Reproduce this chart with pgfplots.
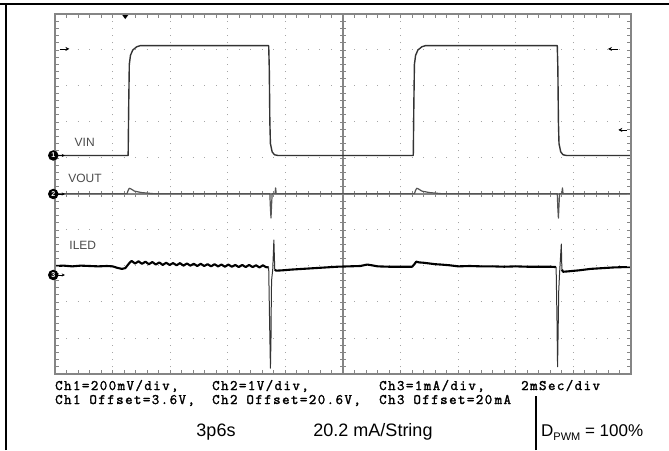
\documentclass[border=0pt]{standalone}
\usepackage{fontspec}
\setmainfont{Liberation Sans}
\newfontfamily\scopefont{Latin Modern Mono}[FakeBold=1.8, LetterSpace=10]
\usepackage{pgfplots}
\pgfplotsset{compat=1.18}
\usetikzlibrary{arrows.meta}

\definecolor{framegray}{HTML}{858585}
\definecolor{dotgray}{HTML}{A5A5A5}
\definecolor{vincol}{HTML}{333333}
\definecolor{voutcol}{HTML}{555555}
\definecolor{labcol}{HTML}{4A4A4A}

\begin{document}
\begin{tikzpicture}[x=1pt,y=1pt]
\useasboundingbox (0,0) rectangle (669,450);
% page frame
\draw[line width=1.4pt] (0,446) -- (669,446);
\draw[line width=1.4pt] (6,0) -- (6,446);
\draw[line width=1.2pt] (536,0) -- (536,54);

% grid behind the traces
\begin{scope}[shift={(55,76)}, x=57.6pt, y=36pt]
  \foreach \i in {1,2,3,4,6,7,8,9}
    \draw[dotgray, line width=1pt, dash pattern=on 1pt off 6.2pt, dash phase=0.5pt] (\i,0) -- (\i,10);
  \foreach \j in {1,2,3,4,6,7,8,9}
    \draw[dotgray, line width=1pt, dash pattern=on 1pt off 10.52pt, dash phase=0.5pt] (0,\j) -- (10,\j);
  % centre cross
  \draw[framegray, line width=1.1pt] (5,0) -- (5,10);
  \draw[framegray, line width=1.1pt] (0,5) -- (10,5);
  \foreach \k in {1,...,49} {
    \draw[framegray, line width=0.9pt] (5,\k/5) ++(-3pt,0) -- ++(6pt,0);
    \draw[framegray, line width=0.9pt] (\k/5,5) ++(0,-3pt) -- ++(0,6pt);
  }
\end{scope}

\begin{axis}[
  at={(55pt,76pt)}, anchor=south west,
  scale only axis, width=576pt, height=360pt,
  xmin=0, xmax=10, ymin=0, ymax=10,
  hide axis,
]
% VIN
\addplot[vincol, line width=1.4pt, line join=round, mark=none] coordinates {
 (0,6.07) (1.27,6.07) (1.28,7.5) (1.29,8.6) (1.31,8.85) (1.35,9.0) (1.42,9.09) (1.48,9.12)
 (3.71,9.12) (3.72,8.5) (3.73,7.0) (3.74,6.4) (3.77,6.17) (3.81,6.09) (3.87,6.07)
 (6.22,6.07) (6.23,7.5) (6.24,8.6) (6.26,8.85) (6.30,9.0) (6.37,9.09) (6.43,9.12)
 (8.72,9.12) (8.73,8.5) (8.74,7.0) (8.75,6.4) (8.78,6.17) (8.82,6.09) (8.88,6.07) (10,6.07)
};
% VOUT
\addplot[voutcol, line width=1.2pt, line join=round, mark=none] coordinates {
 (0,5.01) (1.25,5.01) (1.27,5.10) (1.29,5.16) (1.32,5.14) (1.38,5.08) (1.5,5.04) (1.7,5.01)
 (3.73,5.01) (3.74,4.6) (3.75,4.33) (3.76,4.7) (3.77,5.01) (3.82,5.01) (3.83,5.17) (3.84,5.01)
 (6.24,5.01) (6.26,5.10) (6.28,5.16) (6.31,5.14) (6.37,5.08) (6.5,5.04) (6.7,5.01)
 (8.72,5.01) (8.73,4.6) (8.74,4.33) (8.75,4.7) (8.76,5.01) (8.80,5.01) (8.81,5.17) (8.82,5.01) (10,5.01)
};
% ILED
\addplot[black, line width=2.1pt, line join=round, mark=none] coordinates {
 (0,3.0) (0.15,3.01) (0.3,2.99) (0.45,3.01) (0.6,3.0) (0.75,2.99) (0.9,3.0) (1.0,2.99)
 (1.08,2.95) (1.16,2.92) (1.22,2.94) (1.26,3.02) (1.30,3.10)
 (1.33,3.14) (1.39,3.07) (1.45,3.13) (1.51,3.06) (1.57,3.12) (1.63,3.05) (1.69,3.11)
 (1.75,3.04) (1.81,3.10) (1.87,3.03) (1.93,3.09) (1.99,3.03) (2.05,3.08) (2.11,3.02)
 (2.17,3.08) (2.23,3.01) (2.29,3.07) (2.35,3.01) (2.41,3.06) (2.47,3.00) (2.53,3.06)
 (2.59,3.00) (2.65,3.05) (2.71,2.99) (2.77,3.05) (2.83,2.99) (2.89,3.04) (2.95,2.98)
 (3.01,3.04) (3.07,2.98) (3.13,3.03) (3.19,2.97) (3.25,3.03) (3.31,2.97) (3.37,3.03)
 (3.43,2.97) (3.49,3.02) (3.55,2.96) (3.61,3.02) (3.66,2.97) (3.71,2.96)
};
\addplot[black!80, line width=1pt, line join=round, mark=none] coordinates {
 (3.71,2.96) (3.725,1.5) (3.74,0.16) (3.75,1.0) (3.755,2.0) (3.76,2.6) (3.78,2.9)
 (3.80,3.72) (3.815,2.9)
};
\addplot[black, line width=2.1pt, line join=round, mark=none] coordinates {
 (3.815,2.9) (3.84,2.87) (3.95,2.88) (4.1,2.90) (4.3,2.92) (4.5,2.94) (4.7,2.96) (4.9,2.98)
 (5.1,2.99) (5.3,3.0) (5.42,3.04) (5.5,3.02) (5.6,2.99) (5.8,2.98) (6.0,2.98) (6.2,2.98)
 (6.24,3.05) (6.27,3.12) (6.32,3.10) (6.40,3.09) (6.5,3.07) (6.6,3.05) (6.7,3.04)
 (6.85,3.02) (7.0,2.99) (7.2,3.0) (7.4,2.99) (7.6,2.99) (7.8,2.98) (8.0,2.99)
 (8.2,2.98) (8.4,2.98) (8.6,2.98) (8.70,2.97)
};
\addplot[black!80, line width=1pt, line join=round, mark=none] coordinates {
 (8.70,2.97) (8.715,1.5) (8.725,0.2) (8.735,1.2) (8.745,2.3) (8.76,2.8) (8.79,3.61) (8.80,2.9)
};
\addplot[black, line width=2.1pt, line join=round, mark=none] coordinates {
 (8.80,2.9) (8.82,2.84) (8.9,2.85) (9.1,2.88) (9.3,2.92) (9.5,2.94) (9.7,2.96) (9.9,2.97) (10,2.97)
};
\end{axis}

% screen frame, ticks, markers, labels
\begin{scope}[shift={(55,76)}, x=57.6pt, y=36pt]
  \draw[framegray, line width=2.6pt] (0,0) rectangle (10,10);
  \foreach \k in {1,...,49} {
    \draw[framegray, line width=0.9pt] (\k/5,0) -- ++(0,4pt);
    \draw[framegray, line width=0.9pt] (\k/5,10) -- ++(0,-4pt);
    \draw[framegray, line width=0.9pt] (0,\k/5) -- ++(4pt,0);
    \draw[framegray, line width=0.9pt] (10,\k/5) -- ++(-4pt,0);
  }
  % trigger and level markers
  \fill[black] (1.22,9.86) -- ++(-3pt,4pt) -- ++(6pt,0) -- cycle;
  \draw[black, line width=0.8pt, -{Stealth[length=4pt,width=4pt]}] (0.08,9.03) -- (0.25,9.03);
  \draw[black, line width=0.8pt, -{Stealth[length=4pt,width=4pt]}] (9.78,9.03) -- (9.6,9.03);
  \draw[black, line width=0.8pt, -{Stealth[length=4pt,width=4pt]}] (9.93,6.78) -- (9.78,6.78);
  % channel markers
  \foreach \yy/\nn in {6.07/1, 5.0/2, 2.75/3} {
    \draw[black, line width=0.8pt, -{Stealth[length=3pt,width=3pt]}] (0,\yy) -- (0.17,\yy);
    \node[circle, fill=black, inner sep=0pt, minimum size=10.5pt, text=white,
          font=\fontsize{7}{7}\selectfont\bfseries] at (-0.03,\yy) {\nn};
  }
  \node[labcol, font=\fontsize{12}{12}\selectfont, anchor=west] at (0.28,6.44) {VIN};
  \node[labcol, font=\fontsize{12}{12}\selectfont, anchor=west] at (0.17,5.44) {VOUT};
  \node[labcol, font=\fontsize{12}{12}\selectfont, anchor=west] at (0.19,3.56) {ILED};
\end{scope}

% scope settings
\begin{scope}[font=\scopefont\fontsize{14.5}{14.5}\selectfont]
  \node[anchor=base west, inner sep=0pt] at (55,60) {Ch1=200mV/div,};
  \node[anchor=base west, inner sep=0pt] at (212,60) {Ch2=1V/div,};
  \node[anchor=base west, inner sep=0pt] at (379,60) {Ch3=1mA/div,};
  \node[anchor=base west, inner sep=0pt] at (521,60) {2mSec/div};
  \node[anchor=base west, inner sep=0pt] at (55,46) {Ch1 Offset=3.6V,};
  \node[anchor=base west, inner sep=0pt] at (212,46) {Ch2 Offset=20.6V,};
  \node[anchor=base west, inner sep=0pt] at (379,46) {Ch3 Offset=20\,mA};
\end{scope}

\begin{scope}[font=\fontsize{18}{18}\selectfont]
  \node[anchor=base, inner sep=0pt] at (216,14) {3p6s};
  \node[anchor=base, inner sep=0pt] at (373,14) {20.2 mA/String};
  \node[anchor=base west, inner sep=0pt, font=\fontsize{17}{17}\selectfont] at (541,14)
    {D\raisebox{-0.25em}{\fontsize{11}{11}\selectfont PWM} = 100\%};
\end{scope}
\end{tikzpicture}
\end{document}
